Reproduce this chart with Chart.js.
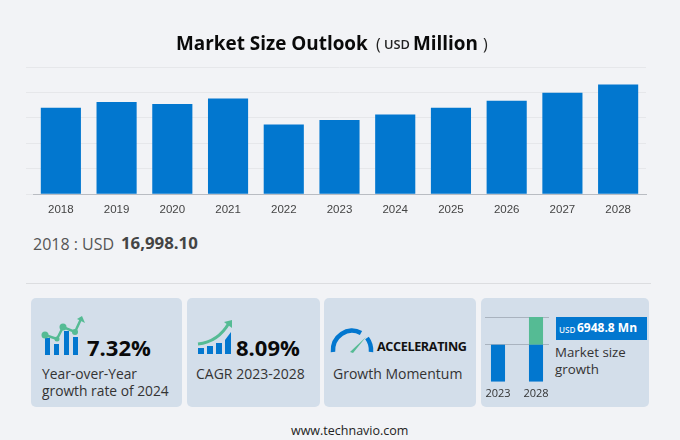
<!DOCTYPE html>
<html><head><meta charset="utf-8">
<script src="https://cdn.jsdelivr.net/npm/chart.js@4"></script>
<style>
html,body{margin:0;padding:0;background:#f2f3f6;}
body{width:680px;height:440px;position:relative;overflow:hidden;font-family:"Open Sans",sans-serif;color:#333;}
.t{position:absolute;white-space:nowrap;line-height:1;}
.card{position:absolute;top:298px;height:109px;background:#d3deea;border-radius:5px;}
canvas{position:absolute;}
svg{position:absolute;overflow:visible;}
</style></head><body>
<canvas id="main" style="left:0;top:51px;width:680px;height:175px"></canvas>

<div class="t" style="left:176px;top:34px;font-size:18.9px;font-weight:700;color:#0a0a0a">Market Size Outlook</div>
<div class="t" style="left:376px;top:36px;font-size:16px;color:#222">(</div>
<div class="t" style="left:384px;top:38px;font-size:12.8px;font-weight:600;color:#222">USD</div>
<div class="t" style="left:413px;top:34px;font-size:18.9px;font-weight:700;color:#0a0a0a">Million</div>
<div class="t" style="left:483px;top:36px;font-size:16px;color:#222">)</div>

<div class="t" style="left:33px;top:236px;font-size:16px;color:#555">2018 : USD</div>
<div class="t" style="left:121px;top:235px;font-size:16.8px;font-weight:700;color:#444">16,998.10</div>
<div style="position:absolute;left:26px;top:283px;width:625px;height:1px;background:#dcdde0"></div>

<div class="card" style="left:31px;width:151px"></div>
<div class="card" style="left:187px;width:133px"></div>
<div class="card" style="left:324px;width:152px"></div>
<div class="card" style="left:481px;width:168px"></div>

<svg style="left:40px;top:315px" width="46" height="42" viewBox="0 0 46 42">
 <g fill="#0277cf"><rect x="5" y="23" width="5" height="17"/><rect x="14" y="29" width="5" height="11"/><rect x="24" y="16" width="5" height="24"/><rect x="33" y="22" width="5" height="18"/></g>
 <path d="M5 20 L17 24 L23 12 L35 17 L41 4" fill="none" stroke="#55bb94" stroke-width="2.5"/>
 <g fill="#55bb94"><circle cx="5" cy="20" r="3.5"/><circle cx="17" cy="24" r="2.5"/><circle cx="23" cy="12" r="3.5"/><circle cx="35" cy="17" r="3"/><path d="M37 4 L42 1 L45 8 Z"/></g>
</svg>
<div class="t" style="left:87px;top:336px;font-size:22px;font-weight:700;color:#0a0a0a">7.32%</div>
<div class="t" style="left:42px;top:367px;font-size:13.8px">Year-over-Year</div>
<div class="t" style="left:42px;top:384px;font-size:13.8px">growth rate of 2024</div>

<svg style="left:196px;top:317px" width="40" height="40" viewBox="0 0 40 40">
 <g fill="#0277cf"><rect x="2" y="31" width="6" height="6"/><rect x="11" y="29" width="6" height="8"/><rect x="20" y="26" width="6" height="11"/><path d="M29 23 L35 15 L35 37 L29 37 Z"/></g>
 <path d="M2 27 Q22 25 33 6" fill="none" stroke="#55bb94" stroke-width="3"/>
 <path d="M28 5 L36 3 L36 11 Z" fill="#55bb94"/>
</svg>
<div class="t" style="left:236px;top:336px;font-size:22px;font-weight:700;color:#0a0a0a">8.09%</div>
<div class="t" style="left:196px;top:367px;font-size:14px">CAGR 2023-2028</div>

<svg style="left:330px;top:328px" width="46" height="26" viewBox="0 0 46 26">
 <path d="M3 24 A19 20 0 0 1 31 5" fill="none" stroke="#0277cf" stroke-width="4.5"/>
 <path d="M37 10 A19 20 0 0 1 41 24" fill="none" stroke="#0277cf" stroke-width="4.5"/>
 <path d="M20 24 L36 9 L23 25 Z" fill="#55bb94"/>
</svg>
<div class="t" style="left:377px;top:341px;font-size:12.6px;font-weight:700;letter-spacing:-.35px;color:#111">ACCELERATING</div>
<div class="t" style="left:333px;top:367px;font-size:14px">Growth Momentum</div>

<canvas id="mini" style="left:479px;top:312px;width:76px;height:93px;clip-path:inset(0 6px 0 6px)"></canvas>
<div class="t" style="left:556px;top:317px;width:91px;height:23px;background:#0277cf"></div>
<div class="t" style="left:559px;top:326px;font-size:8.2px;font-weight:600;color:#e8f1fa">USD</div>
<div class="t" style="left:577px;top:322px;font-size:12px;font-weight:700;color:#fff">6948.8 Mn</div>
<div class="t" style="left:555px;top:346px;font-size:13.3px">Market size</div>
<div class="t" style="left:555px;top:363px;font-size:13.3px">growth</div>

<div class="t" style="left:291px;top:425px;font-size:12.5px;color:#222">www.technavio.com</div>

<script>
const categories=["2018","2019","2020","2021","2022","2023","2024","2025","2026","2027","2028"];
const marketSize=[16998.1,18110,17720,18820,13700,14604,15673,16990,18370,19940,21553];
const yTicks=[0,5000,10000,15000,20000,25000];
const miniCategories=["2023","2028"];
const miniBase=[36,36];
const miniGrowth=[0,27];

Chart.defaults.animation=false;
Chart.defaults.responsive=false;
Chart.defaults.devicePixelRatio=1;

function size(id,w,h){const c=document.getElementById(id);c.width=w;c.height=h;return c;}

new Chart(size("main",680,175),{type:"bar",
 data:{labels:categories,datasets:[{data:marketSize,backgroundColor:"#0277cf",barPercentage:0.72,categoryPercentage:1}]},
 options:{responsive:false,maintainAspectRatio:false,
  layout:{padding:{left:26,right:34,top:16,bottom:0}},
  plugins:{legend:{display:false},tooltip:{enabled:false}},
  scales:{
   x:{grid:{display:false,drawTicks:false},border:{color:"#b9bcc2"},
      ticks:{color:"#444",padding:9,maxRotation:0,autoSkip:false,font:{family:"Liberation Sans",size:11.5}}},
   y:{min:0,max:25000,afterBuildTicks(a){a.ticks=yTicks.map(v=>({value:v}));},
      grid:{color:"#e6e7ea",tickLength:7},border:{display:false},ticks:{display:false,padding:0}}
  }}});

new Chart(size("mini",76,93),{type:"bar",
 data:{labels:miniCategories,datasets:[
   {data:miniBase,backgroundColor:"#0277cf",stack:"a",barPercentage:0.37,categoryPercentage:1},
   {data:miniGrowth,backgroundColor:"#55bb94",stack:"a",barPercentage:0.37,categoryPercentage:1}]},
 options:{responsive:false,maintainAspectRatio:false,
  layout:{padding:{left:0,right:0,top:5,bottom:0}},
  plugins:{legend:{display:false},tooltip:{enabled:false}},
  scales:{
   x:{stacked:true,grid:{display:false,drawTicks:false},border:{display:false},
      ticks:{color:"#333",padding:5,maxRotation:0,autoSkip:false,font:{family:"Open Sans",size:11}}},
   y:{stacked:true,min:0,max:63,afterBuildTicks(a){a.ticks=[{value:36},{value:63}];},
      display:true,grid:{color:"#a9b3bf",drawTicks:false},border:{display:false},ticks:{display:false,padding:0}}
  }}});
</script>
</body></html>
